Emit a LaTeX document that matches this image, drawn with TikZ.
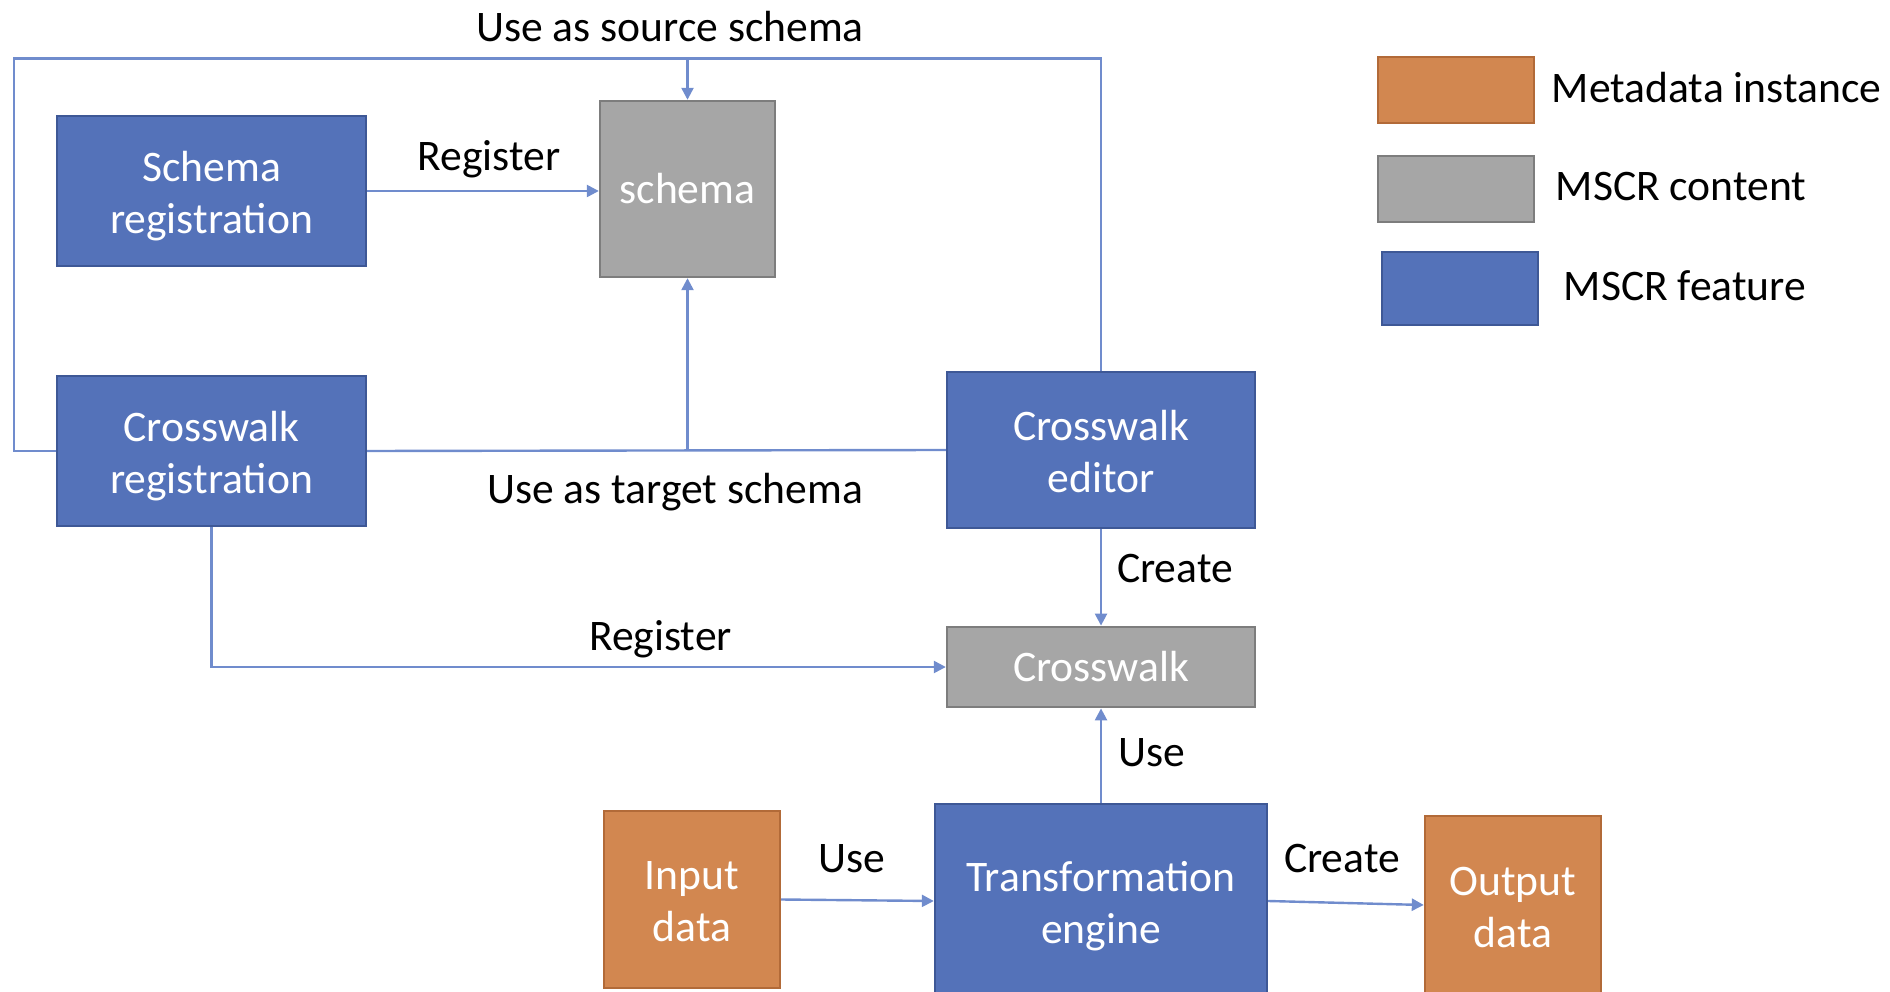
\documentclass[tikz,border=0pt]{standalone}
\usepackage{fontspec}
\setmainfont{Carlito}
\usetikzlibrary{arrows.meta}
\definecolor{featfill}{RGB}{84,114,185}
\definecolor{featdraw}{RGB}{62,88,150}
\definecolor{contfill}{RGB}{166,166,166}
\definecolor{contdraw}{RGB}{125,125,125}
\definecolor{instfill}{RGB}{210,135,80}
\definecolor{instdraw}{RGB}{178,106,56}
\definecolor{conn}{RGB}{112,140,205}
\begin{document}
\begin{tikzpicture}[x=0.25pt,y=-0.25pt,
  every node/.style={font=\fontsize{10.9}{13}\selectfont, inner sep=0pt},
  boxbase/.style={rectangle, line width=0.6pt, align=center, text=white},
  twoline/.style={text height=21.2pt, text depth=0pt},
  feature/.style={boxbase, fill=featfill, draw=featdraw},
  content/.style={boxbase, fill=contfill, draw=contdraw},
  instance/.style={boxbase, fill=instfill, draw=instdraw},
  lbl/.style={text=black},
  link/.style={draw=conn, line width=0.6pt},
  arr/.style={link, -{Triangle[length=3pt,width=3pt]}}]
\useasboundingbox (0,0) rectangle (1890,992);
\clip (0,0) rectangle (1890,992);

% main boxes
\node[feature, twoline, minimum width=77.25pt, minimum height=37.5pt] (SR) at (211.5,191) {Schema\\registration};
\node[feature, twoline, minimum width=77.25pt, minimum height=37.5pt] (CR) at (211.5,451) {Crosswalk\\registration};
\node[content, minimum width=43.75pt, minimum height=44pt] (SC) at (687.5,189) {schema};
\node[feature, twoline, minimum width=77pt, minimum height=38.9pt] (CE) at (1101,450) {Crosswalk\\editor};
\node[content, minimum width=77pt, minimum height=20.1pt] (CW) at (1101,667) {Crosswalk};
\node[feature, twoline, minimum width=83pt, minimum height=48.5pt] (TE) at (1101,901) {Transformation\\engine};
\node[instance, twoline, minimum width=44pt, minimum height=44.25pt] (IN) at (692,899.5) {Input\\data};
\node[instance, twoline, minimum width=44pt, minimum height=44.5pt] (OUT) at (1513,905) {Output\\data};

% legend
\node[instance, minimum width=39pt, minimum height=16.5pt] (L1) at (1456,90) {};
\node[content, minimum width=39pt, minimum height=16.5pt] (L2) at (1456,189) {};
\node[feature, minimum width=39pt, minimum height=18.25pt] (L3) at (1460,288.5) {};
\node[lbl, anchor=west] (T1) at (1551,88) {Metadata instance};
\node[lbl, anchor=west] (T2) at (1555,187) {MSCR content};
\node[lbl, anchor=west] (T3) at (1563,286) {MSCR feature};

% connectors
\coordinate (tl) at (14,58.7);
\draw[link] (CE.north) |- (tl) |- (CR.west);
\draw[arr] (SC.north |- tl) -- (SC.north);
\draw[link] (CR.east) -- (CE.west);
\draw[arr] (SC.south |- CR.east) -- (SC.south);
\draw[arr] (SR.east) -- (SR.east -| SC.west);
\draw[arr] (CE.south) -- (CW.north);
\draw[arr] (CR.south) |- (CW.west);
\draw[arr] (TE.north) -- (CW.south);
\draw[arr] (IN.east) -- (TE.west);
\draw[arr] (TE.east) -- (OUT.west);

% labels
\node[lbl] (l1) at (670,26.5) {Use as source schema};
\node[lbl] (l2) at (489,159) {Register};
\node[lbl] (l3) at (675,492) {Use as target schema};
\node[lbl] (l4) at (1175,569) {Create};
\node[lbl] (l5) at (660.5,639) {Register};
\node[lbl] (l6) at (1152,753) {Use};
\node[lbl] (l7) at (852,859) {Use};
\node[lbl] (l8) at (1342,859) {Create};
\end{tikzpicture}
\end{document}
